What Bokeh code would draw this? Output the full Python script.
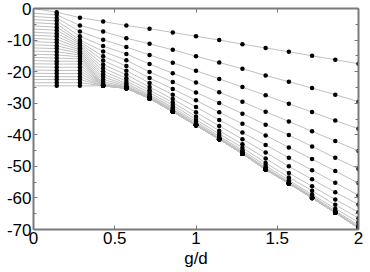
from bokeh.plotting import figure
from bokeh.models import LinearAxis, SingleIntervalTicker, CustomJSTickFormatter, Range1d
from bokeh.embed import file_html
from bokeh.resources import INLINE

# g/d sample positions (dots drawn at all but the first)
gd = [0.0, 0.1429, 0.2857, 0.4286, 0.5714, 0.7143, 0.8571, 1.0,
      1.1429, 1.2857, 1.4286, 1.5714, 1.7143, 1.8571, 2.0]

# energies of the 25 levels (top to bottom) at each g/d
e_000 = [0.0, -1.5, -2.5, -3.5, -4.5, -5.5, -6.5, -7.5, -8.5, -9.5, -10.5, -11.5, -12.5,
         -13.5, -14.5, -15.5, -16.5, -17.5, -18.5, -19.5, -20.5, -21.5, -22.5, -23.5, -24.5]
e_014 = [-1.2, -2.0, -3.0, -3.9, -4.9, -5.9, -6.9, -7.9, -8.8, -9.8, -10.8, -11.8, -12.7,
         -13.7, -14.7, -15.7, -16.7, -17.6, -18.6, -19.6, -20.6, -21.6, -22.5, -23.5, -24.5]
e_029 = [-2.9, -5.4, -7.3, -8.8, -10.0, -10.6, -11.1, -11.6, -12.1, -12.6, -13.1, -13.6, -14.15,
         -14.7, -15.3, -15.95, -16.7, -17.6, -18.6, -19.6, -20.6, -21.6, -22.5, -23.5, -24.5]
e_043 = [-4.1, -7.3, -9.9, -11.9, -13.6, -15.15, -16.5, -17.75, -18.85, -19.9, -20.8, -21.65, -22.45,
         -23.2, -23.8, -24.15, -24.3, -24.38, -24.43, -24.46, -24.48, -24.5, -24.5, -24.5, -24.5]
e_057 = [-5.4, -9.4, -12.2, -14.4, -16.4, -18.2, -19.7, -21.0, -22.1, -23.0, -23.7, -24.2, -24.6,
         -24.85, -25.0, -25.1, -25.15, -25.2, -25.23, -25.25, -25.27, -25.28, -25.29, -25.3, -25.3]
e_071 = [-6.4, -11.2, -14.7, -17.6, -20.1, -22.0, -23.6, -24.9, -25.9, -26.7, -27.3, -27.7, -28.0,
         -28.2, -28.3, -28.38, -28.42, -28.45, -28.47, -28.48, -28.5, -28.5, -28.5, -28.5, -28.5]
e_086 = [-7.6, -13.1, -17.2, -20.5, -23.3, -25.5, -27.3, -28.7, -29.8, -30.6, -31.3, -31.8, -32.1,
         -32.35, -32.5, -32.6, -32.65, -32.68, -32.7, -32.7, -32.7, -32.7, -32.7, -32.7, -32.7]
e_100 = [-8.8, -15.1, -19.7, -23.4, -26.6, -29.1, -31.2, -32.9, -34.2, -35.2, -35.9, -36.4, -36.7,
         -36.85, -36.95, -37.0, -37.0, -37.0, -37.0, -37.0, -37.0, -37.0, -37.0, -37.0, -37.0]
e_114 = [-10.0, -17.1, -22.3, -26.5, -29.9, -32.9, -35.3, -37.2, -38.7, -39.7, -40.4, -40.85, -41.1,
         -41.25, -41.35, -41.4, -41.4, -41.4, -41.4, -41.4, -41.4, -41.4, -41.4, -41.4, -41.4]
e_129 = [-11.3, -19.1, -24.9, -29.5, -33.3, -36.5, -39.3, -41.4, -43.0, -44.1, -44.9, -45.4, -45.7,
         -45.85, -45.95, -46.0, -46.0, -46.0, -46.0, -46.0, -46.0, -46.0, -46.0, -46.0, -46.0]
e_143 = [-12.5, -21.2, -27.5, -32.7, -36.8, -40.2, -43.2, -45.6, -47.5, -48.9, -49.8, -50.4, -50.7,
         -50.85, -50.95, -51.0, -51.0, -51.0, -51.0, -51.0, -51.0, -51.0, -51.0, -51.0, -51.0]
e_157 = [-13.7, -23.2, -30.2, -35.8, -40.1, -44.0, -47.3, -50.0, -52.1, -53.5, -54.4, -54.9, -55.15,
         -55.3, -55.35, -55.4, -55.4, -55.4, -55.4, -55.4, -55.4, -55.4, -55.4, -55.4, -55.4]
e_171 = [-15.0, -25.2, -32.8, -38.9, -43.7, -47.7, -51.2, -54.1, -56.3, -57.7, -58.9, -59.4, -59.7,
         -59.85, -59.95, -60.0, -60.0, -60.0, -60.0, -60.0, -60.0, -60.0, -60.0, -60.0, -60.0]
e_186 = [-16.2, -27.3, -35.5, -42.0, -47.3, -51.5, -55.2, -58.2, -60.5, -62.2, -63.4, -64.1, -64.4,
         -64.55, -64.65, -64.7, -64.7, -64.7, -64.7, -64.7, -64.7, -64.7, -64.7, -64.7, -64.7]
e_200 = [-17.5, -29.5, -38.1, -45.1, -50.8, -55.3, -59.2, -62.1, -64.5, -66.4, -67.7, -68.6, -69.1,
         -69.35, -69.45, -69.5, -69.5, -69.5, -69.5, -69.5, -69.5, -69.5, -69.5, -69.5, -69.5]

x_ticks_interval = 0.5
y_ticks_interval = 10

columns = [e_000, e_014, e_029, e_043, e_057, e_071, e_086, e_100,
           e_114, e_129, e_143, e_157, e_171, e_186, e_200]
n_levels = len(e_000)

line_xs = [list(gd) for _ in range(n_levels)]
line_ys = [[col[i] for col in columns] for i in range(n_levels)]

dot_x = [gd[k] for i in range(n_levels) for k in range(1, len(gd))]
dot_y = [columns[k][i] for i in range(n_levels) for k in range(1, len(gd))]

FONT = "Liberation Sans"
AX = "#7a7a7a"

p = figure(width=366, height=270, x_range=Range1d(0, 2), y_range=Range1d(-70, 0),
           output_backend="svg", toolbar_location=None,
           x_axis_type=None, y_axis_type=None,
           min_border_left=33, min_border_right=8, min_border_top=8, min_border_bottom=40)
p.xgrid.grid_line_color = None
p.ygrid.grid_line_color = None
p.outline_line_color = None
p.background_fill_color = "white"
p.border_fill_color = "white"

p.multi_line(line_xs, line_ys, line_color="#c0c0c0", line_width=1)
p.scatter(dot_x, dot_y, size=4.5, fill_color="black", line_color=None)


def style(ax, labels=True, minor=True):
    ax.axis_line_color = AX
    ax.axis_line_width = 2
    ax.major_tick_line_color = AX
    ax.minor_tick_line_color = AX if minor else None
    ax.major_tick_in = 4
    ax.major_tick_out = 0
    ax.minor_tick_in = 3
    ax.minor_tick_out = 0
    ax.major_label_text_font = FONT
    ax.major_label_text_font_size = "17px"
    ax.major_label_text_color = "black"
    ax.major_label_standoff = 2
    if labels:
        ax.formatter = CustomJSTickFormatter(code="return tick.toString()")
    else:
        ax.formatter = CustomJSTickFormatter(code="return ''")
        ax.major_label_standoff = 0


xt = SingleIntervalTicker(interval=x_ticks_interval, num_minor_ticks=0)
yt = SingleIntervalTicker(interval=y_ticks_interval, num_minor_ticks=2)

bottom = LinearAxis(ticker=xt, axis_label="g/d")
style(bottom, minor=False)
bottom.axis_label_text_font = FONT
bottom.axis_label_text_font_size = "17px"
bottom.axis_label_text_font_style = "normal"
bottom.axis_label_text_color = "black"
bottom.axis_label_standoff = 2
p.add_layout(bottom, "below")

top = LinearAxis(ticker=SingleIntervalTicker(interval=x_ticks_interval, num_minor_ticks=0))
style(top, labels=False, minor=False)
p.add_layout(top, "above")

left = LinearAxis(ticker=yt)
style(left)
p.add_layout(left, "left")

right = LinearAxis(ticker=SingleIntervalTicker(interval=y_ticks_interval, num_minor_ticks=2))
style(right, labels=False)
p.add_layout(right, "right")

open("out.html", "w").write(file_html(p, INLINE))
